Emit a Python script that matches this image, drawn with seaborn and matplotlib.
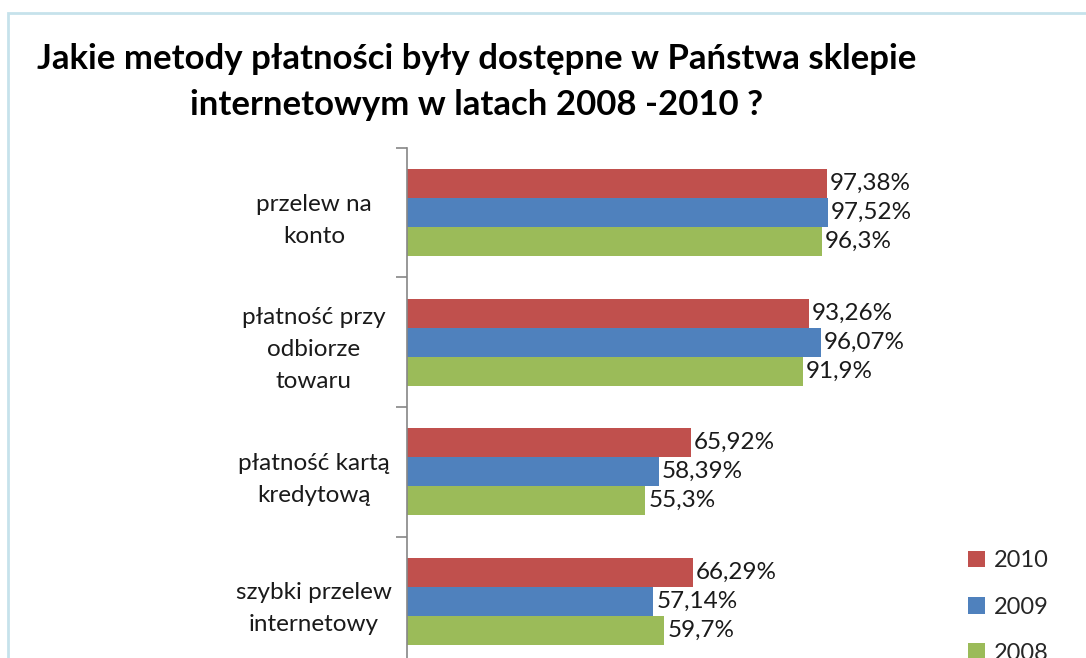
import matplotlib
matplotlib.use("Agg")
import matplotlib.pyplot as plt
import seaborn as sns
import pandas as pd
from matplotlib.patches import Rectangle

categories = ["przelew na\nkonto", "płatność przy\nodbiorze\ntowaru",
              "płatność kartą\nkredytową", "szybki przelew\ninternetowy"]
years = ["2010", "2009", "2008"]
values_2010 = [97.38, 93.26, 65.92, 66.29]
values_2009 = [97.52, 96.07, 58.39, 57.14]
values_2008 = [96.3, 91.9, 55.3, 59.7]
colors = ["#C0504D", "#4F81BD", "#9BBB59"]
title = "Jakie metody płatności były dostępne w Państwa sklepie\ninternetowym w latach 2008 -2010 ?"

rows = []
for y, vals in zip(years, [values_2010, values_2009, values_2008]):
    for c, v in zip(categories, vals):
        rows.append({"kategoria": c, "rok": y, "wartosc": v})
df = pd.DataFrame(rows)

sns.set_theme(style="white")
plt.rcParams["font.family"] = ["Lato", "DejaVu Sans"]

fig = plt.figure(figsize=(10.86, 6.58), dpi=100)
fig.patches.append(Rectangle((8 / 1086, -0.1), 1.2, 1 - 13 / 658 + 0.1,
                             transform=fig.transFigure, fill=False,
                             edgecolor="#C6E2EB", linewidth=2, zorder=0))
ax = fig.add_axes([407 / 1086, 1 - 666 / 658, 539 / 1086, 518 / 658])

sns.barplot(data=df, y="kategoria", x="wartosc", hue="rok", order=categories,
            hue_order=years, palette=colors, orient="h", width=0.67, gap=0,
            ax=ax, saturation=1, edgecolor="none")

for cont in ax.containers:
    labels = [f"{b.get_width():g}".replace(".", ",") + "%" for b in cont]
    ax.bar_label(cont, labels=labels, padding=2, fontsize=17.5, color="#1a1a1a")

ax.set_xlim(0, 125)
ax.set_ylim(3.5, -0.5)
ax.set_xlabel("")
ax.set_ylabel("")
ax.set_xticks([])
ax.set_yticks(range(len(categories)))
ax.set_yticklabels(categories, fontsize=17.5, color="#1a1a1a", ha="center",
                   linespacing=1.65)
ax.tick_params(axis="y", which="major", length=0, pad=67)
ax.set_yticks([-0.5, 0.5, 1.5, 2.5, 3.5], minor=True)
ax.tick_params(axis="y", which="minor", length=8, width=1.2, color="#868686", left=True)
for s in ["top", "right", "bottom"]:
    ax.spines[s].set_visible(False)
ax.spines["left"].set_color("#868686")
ax.spines["left"].set_linewidth(1.2)

leg = ax.legend(loc="upper left", bbox_to_anchor=(947 / 1086, 1 - 529 / 658),
                bbox_transform=fig.transFigure, frameon=False, fontsize=17,
                handlelength=0.7, handleheight=0.7, labelspacing=1.07,
                handletextpad=0.4)

fig.text(477 / 1086, 1 - 43 / 658, title, ha="center", va="top",
         fontsize=25, fontweight="bold", color="#000000", linespacing=1.55)

fig.savefig("out.png", dpi=100)
